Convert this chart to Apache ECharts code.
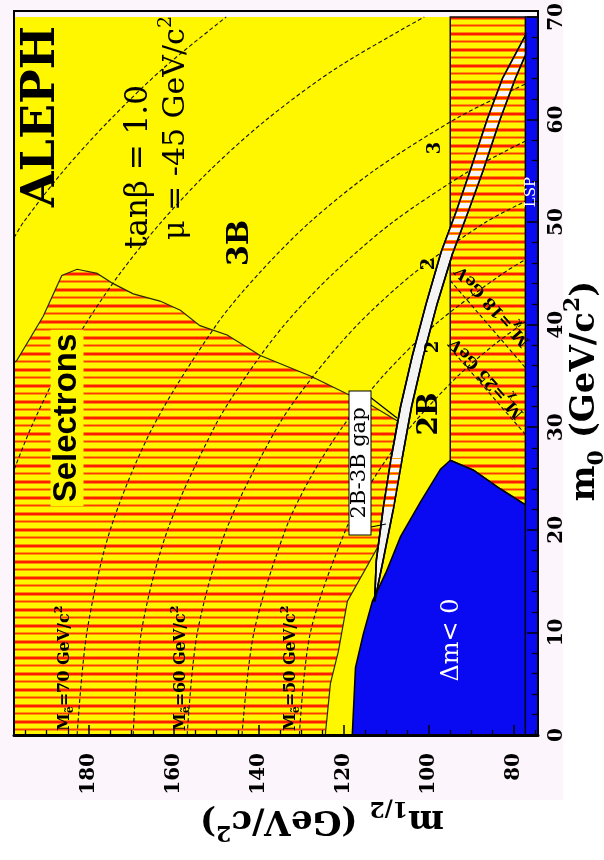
<!DOCTYPE html>
<html>
<head>
<meta charset="utf-8">
<script src="https://cdn.jsdelivr.net/npm/echarts@6/dist/echarts.min.js"></script>
<style>
  html, body { margin: 0; padding: 0; background: #ffffff; }
  #wrap { position: relative; width: 604px; height: 860px; }
  #paper { position: absolute; left: 0; top: 0; width: 563px; height: 800px; background: #fcf6fc; }
  #chart { position: absolute; left: 0; top: 0; width: 604px; height: 860px; }
</style>
</head>
<body>
<div id="wrap"><div id="paper"></div><div id="chart"></div></div>
<script>
// Axis ticks: m1/2 runs along the horizontal axis (inverted), m0 along the vertical axis
const m12Labels = [80, 100, 120, 140, 160, 180];
const m12MinorTicks = [75, 85, 90, 95, 105, 110, 115, 125, 130, 135, 145, 150, 155, 165, 170, 175, 185, 190, 195];
const m0Labels = [0, 10, 20, 30, 40, 50, 60, 70];
const m0MinorTicks = [2, 4, 6, 8, 12, 14, 16, 18, 22, 24, 26, 28, 32, 34, 36, 38, 42, 44, 46, 48, 52, 54, 56, 58, 62, 64, 66, 68];
const m12Range = [74.35, 197.65];
const m0Range = [0, 70];

// Region outlines, every point is [m0, m1/2]
const selectronExcluded = [
  [0, 197.65], [36.3, 197.65], [36.5, 197.0], [40.8, 190.8], [44.8, 186.4], [45.4, 182.8],
  [45.0, 178.1], [44.0, 174.3], [43.0, 169.6], [42.3, 163.3], [41.4, 158.5], [39.9, 153.9],
  [39.0, 147.5], [37.0, 139.7], [35.0, 127.9], [33.1, 118.5], [32.2, 113.8], [30.6, 107.4],
  [27.0, 108.9], [22.0, 110.8], [18.4, 111.95], [13.05, 119.2], [8.2, 121.3], [5.0, 123.2], [0, 124.4]
];
const lowMassExcluded = [
  [70, 95.0], [70, 77.3], [22.43, 77.3], [23.98, 83.18], [25.81, 89.54], [26.78, 95.0]
];
const negativeDeltaM = [
  [0, 118.05], [6.57, 117.3], [9.86, 115.45], [13.05, 113.3], [15.95, 110.0], [19.34, 106.7],
  [22.72, 102.0], [25.91, 97.3], [26.78, 95.0], [25.81, 89.54], [23.98, 83.18], [22.43, 77.3], [0, 77.3]
];
const lspStrip = [[0, 77.3], [70, 77.3], [70, 74.35], [0, 74.35]];
// 2B-3B gap band: upper (higher m1/2) and lower edges
const gapEdgeHigh = [
  [13, 112.8], [17, 112.4], [22, 110.8], [27, 108.9], [32, 106.7], [37, 103.9], [42, 100.7],
  [47, 97.2], [51, 93.6], [55, 90.3], [60, 86.3], [64, 82.7], [68.2, 77.3]
];
const gapEdgeLow = [
  [13, 112.8], [17, 110.8], [22, 108.4], [27, 106.3], [32, 104.1], [37, 101.3], [42, 98.1],
  [47, 94.4], [51, 90.8], [55, 87.3], [60, 83.3], [64, 79.7], [66.3, 77.3]
];

// Selectron mass contours, [m0, m1/2]
const selM50 = [[0, 130.5], [10, 127.9], [20, 119.6], [25, 113], [30, 104.4], [35, 93.2], [38, 84.8], [40, 78.3], [41, 74.7]];
const selM55 = [[0, 144], [10, 141.2], [20, 133.8], [25, 128], [30, 120.4], [35, 110.8], [40, 98.6], [45, 82.6], [47, 74.5]];
const selM60 = [[0, 156.9], [10, 154.5], [20, 147.7], [30, 135.7], [35, 127.2], [40, 116.8], [45, 103.6], [50, 86.6], [52.6, 74.4]];
const selM65 = [[0, 169.6], [10, 167.7], [20, 161.5], [30, 150.5], [35, 143], [40, 134], [45, 122.5], [50, 108.5], [55, 90.5], [57, 81.6], [58.5, 74.4]];
const selM70 = [[0, 182.8], [10, 180.5], [20, 175], [30, 165], [40, 150], [45, 140], [50, 128], [55, 113], [60, 94], [63, 79.7], [64, 74.4]];
const selM80 = [[25.9, 197.6], [30, 193.6], [35, 187.8], [40, 180.9], [45, 172.7], [50, 163], [55, 151.7], [60, 138.2], [65, 121.8], [70, 101.1]];
const selM90 = [[48.5, 197.6], [50, 195.4], [55, 186], [60, 175], [65, 162.5], [70, 147.7]];
// Chi mass lines inside the low-mass region
const chiM18 = [[44.3, 95.0], [35.8, 77.3]];
const chiM25 = [[37.7, 95.0], [29.3, 77.3]];

const xy = p => [p[1], p[0]];

function stripes(bg) {
  const c = document.createElement('canvas');
  c.width = 8; c.height = 16;
  const g = c.getContext('2d');
  g.fillStyle = bg; g.fillRect(0, 0, 8, 16);
  [[0, '#ff8c00'], [1, '#ff1e00'], [2, '#ff1e00'], [3, '#ff8c00'],
   [8, '#ff9c00'], [9, '#ff3c00'], [10, '#ff9c00']].forEach(([r, col]) => {
    g.fillStyle = col; g.fillRect(0, r, 8, 1);
  });
  return { image: c, repeat: 'repeat' };
}
const hatchYellow = stripes('#fff700');
const hatchWhite = stripes('#f6f6f6');

function area(name, pts, style, z) {
  return {
    type: 'custom', name, z, silent: true,
    coordinateSystem: 'cartesian2d',
    data: [xy(pts[0])],
    renderItem: (params, api) => ({
      type: 'polygon',
      shape: { points: pts.map(p => api.coord(xy(p))) },
      style: style
    })
  };
}
function dashed(name, pts, z) {
  return {
    type: 'line', name, z, silent: true, smooth: 0.3,
    showSymbol: false, data: pts.map(xy),
    lineStyle: { color: '#111', width: 1.1, type: [4, 2.5] }
  };
}

const gapBand = gapEdgeHigh.concat(gapEdgeLow.slice().reverse());
const gapStripeA = [gapEdgeHigh[2], gapEdgeHigh[3], gapEdgeLow[3], gapEdgeLow[2]];
const gapStripeB = gapEdgeHigh.slice(7).concat(gapEdgeLow.slice(7).reverse());

const serif = 'DejaVu Serif';
const tickFont = { fontFamily: serif, fontWeight: 'bold', fontSize: 20, color: '#000' };

function note(text, x, y, rot, style, extra) {
  return Object.assign({
    type: 'text', x, y, rotation: rot, z: 100, silent: true,
    style: Object.assign({ text, align: 'center', verticalAlign: 'middle', fill: '#000', fontFamily: serif }, style)
  }, extra || {});
}
const R90 = Math.PI / 2;
const contourRich = {
  m: { fontFamily: serif, fontWeight: 'bold', fontSize: 16, lineHeight: 22, fill: '#000' },
  s: { fontFamily: serif, fontWeight: 'bold', fontSize: 11, lineHeight: 11, verticalAlign: 'bottom', fill: '#000' },
  p: { fontFamily: serif, fontWeight: 'bold', fontSize: 11, lineHeight: 11, verticalAlign: 'top', fill: '#000' }
};
const titleRich = {
  b: { fontFamily: serif, fontWeight: 'bold', fontSize: 34, lineHeight: 46, fill: '#000' },
  s: { fontFamily: serif, fontWeight: 'bold', fontSize: 22, lineHeight: 22, verticalAlign: 'bottom', fill: '#000' },
  p: { fontFamily: serif, fontWeight: 'bold', fontSize: 22, lineHeight: 22, verticalAlign: 'top', fill: '#000' }
};
const paramRich = {
  a: { fontFamily: serif, fontSize: 30, lineHeight: 38, fill: '#000' },
  p: { fontFamily: serif, fontSize: 19, lineHeight: 19, verticalAlign: 'top', fill: '#000' }
};

const chart = echarts.init(document.getElementById('chart'), null, { renderer: 'canvas' });
chart.setOption({
  animation: false,
  grid: { left: 14, top: 11, width: 524, height: 724, show: true, backgroundColor: '#fff700', borderWidth: 0 },
  xAxis: [
    {
      type: 'value', min: m12Range[0], max: m12Range[1], inverse: true, position: 'bottom', z: 10,
      splitLine: { show: false },
      axisLine: { show: true, lineStyle: { color: '#000', width: 3 } },
      axisTick: { show: true, inside: true, length: 10, customValues: m12Labels, lineStyle: { color: '#000', width: 1.5 } },
      axisLabel: Object.assign({ customValues: m12Labels, rotate: 90, margin: 18 }, tickFont)
    },
    {
      type: 'value', min: m12Range[0], max: m12Range[1], inverse: true, position: 'bottom', z: 10,
      splitLine: { show: false }, axisLine: { show: false }, axisLabel: { show: false },
      axisTick: { show: true, inside: true, length: 5, customValues: m12MinorTicks, lineStyle: { color: '#000', width: 1.3 } }
    }
  ],
  yAxis: [
    {
      type: 'value', min: m0Range[0], max: m0Range[1], position: 'right', z: 10,
      splitLine: { show: false },
      axisLine: { show: true, lineStyle: { color: '#000', width: 2 } },
      axisTick: { show: true, inside: true, length: 11, customValues: m0Labels, lineStyle: { color: '#000', width: 1.5 } },
      axisLabel: Object.assign({ customValues: m0Labels, rotate: 90, margin: 9 }, tickFont)
    },
    {
      type: 'value', min: m0Range[0], max: m0Range[1], position: 'right', z: 10,
      splitLine: { show: false }, axisLine: { show: false }, axisLabel: { show: false },
      axisTick: { show: true, inside: true, length: 6, customValues: m0MinorTicks, lineStyle: { color: '#000', width: 1.3 } }
    }
  ],
  series: [
    area('selectrons', selectronExcluded, { fill: hatchYellow, stroke: '#2a2a00', lineWidth: 1.2 }, 2),
    area('low mass', lowMassExcluded, { fill: hatchYellow, stroke: '#111', lineWidth: 1.5 }, 2),
    dashed('M50', selM50, 3), dashed('M55', selM55, 3), dashed('M60', selM60, 3),
    dashed('M65', selM65, 3), dashed('M70', selM70, 3), dashed('M80', selM80, 3), dashed('M90', selM90, 3),
    dashed('chi18', chiM18, 3), dashed('chi25', chiM25, 3),
    area('dm<0', negativeDeltaM, { fill: '#0a0af2', stroke: '#000', lineWidth: 1.5 }, 4),
    area('lsp', lspStrip, { fill: '#0a0af2', stroke: '#000', lineWidth: 1.2 }, 4),
    area('gap', gapBand, { fill: '#f4f4f4', stroke: '#000', lineWidth: 1.6 }, 5),
    area('gapA', gapStripeA, { fill: hatchWhite, stroke: null }, 6),
    area('gapB', gapStripeB, { fill: hatchWhite, stroke: null }, 6),
    area('gapEdge', gapBand, { fill: 'none', stroke: '#000', lineWidth: 1.6 }, 7)
  ],
  graphic: [
    { type: 'rect', z: 90, silent: true, shape: { x: 14, y: 11, width: 524, height: 724 }, style: { fill: 'none', stroke: '#000', lineWidth: 2 } },
    {
      type: 'text', left: 19, top: 26, rotation: R90, z: 100, silent: true,
      style: { text: 'ALEPH', fill: '#000', fontFamily: serif, fontWeight: 'bold', fontSize: 46 }
    },
    note('tanβ = 1.0', 139, 167, R90, { fontSize: 31 }),
    note('{a|μ = -45 GeV/c}{p|2}', 176, 128, R90, { rich: paramRich }),
    note('3B', 240, 243, R90, { fontWeight: 'bold', fontSize: 30 }),
    note('2B', 430, 414, R90, { fontWeight: 'bold', fontSize: 28 }),
    note('Selectrons', 67, 418, R90, { fontFamily: 'Liberation Sans', fontWeight: 'bold', fontSize: 33, backgroundColor: '#fff700', padding: [0, 4] }),
    note('2B-3B gap', 360, 463, R90, { fontSize: 21, backgroundColor: '#ffffff', borderColor: '#000', borderWidth: 1, padding: [0, 16] }),
    note('Δm< 0', 452, 640, R90, { fontSize: 24, fill: '#ffffff' }),
    note('LSP', 531, 192, R90, { fontSize: 15, fill: '#ffffff' }),
    note('{m|M}{s|ẽ}{m|=70 GeV/c}{p|2}', 65, 731, R90, { rich: contourRich, align: 'left' }),
    note('{m|M}{s|ẽ}{m|=60 GeV/c}{p|2}', 181, 731, R90, { rich: contourRich, align: 'left' }),
    note('{m|M}{s|ẽ}{m|=50 GeV/c}{p|2}', 291, 731, R90, { rich: contourRich, align: 'left' }),
    note('{m|M}{s|χ}{m|=18 GeV}', 493, 306, 132 * Math.PI / 180, { rich: contourRich }),
    note('{m|M}{s|χ}{m|=25 GeV}', 487, 378, 132 * Math.PI / 180, { rich: contourRich }),
    note('2', 433, 347, R90, { fontWeight: 'bold', fontSize: 18 }),
    note('2', 429, 264, R90, { fontWeight: 'bold', fontSize: 18 }),
    note('3', 435, 148, R90, { fontWeight: 'bold', fontSize: 18 }),
    { type: 'polyline', z: 95, silent: true, shape: { points: [[370, 397], [397, 418]] }, style: { stroke: '#000', lineWidth: 1.2 } },
    { type: 'polyline', z: 95, silent: true, shape: { points: [[371, 527], [386, 524]] }, style: { stroke: '#000', lineWidth: 1.2 } },
    note('{b|m}{s|1/2}{b| (GeV/c}{p|2}{b|)}', 322, 820, Math.PI, { rich: titleRich }),
    note('{b|m}{s|0}{b| (GeV/c}{p|2}{b|)}', 585, 391, R90, { rich: titleRich })
  ]
});
</script>
</body>
</html>
